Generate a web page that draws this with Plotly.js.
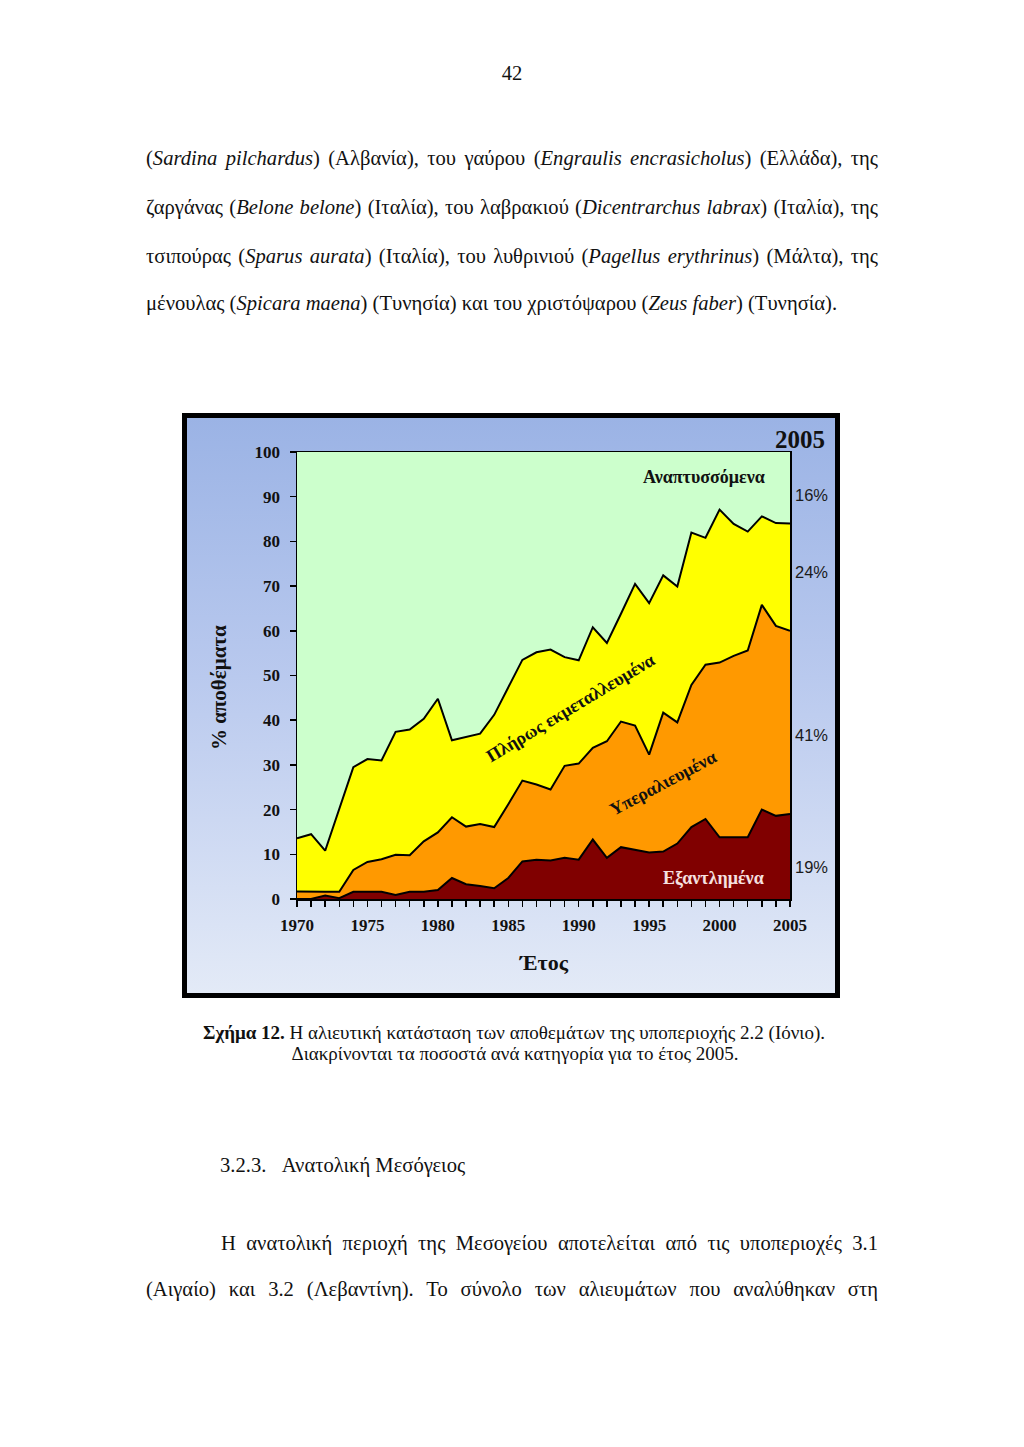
<!DOCTYPE html>
<html>
<head>
<meta charset="utf-8">
<script src="https://cdn.plot.ly/plotly-3.0.1.min.js"></script>
<style>
  html, body { margin:0; padding:0; background:#ffffff; }
  body { width:1024px; height:1447px; position:relative; overflow:hidden; color:#111; }
  .ln { position:absolute; font-family:"Liberation Serif","DejaVu Serif",serif; font-size:20.6px; line-height:24px; white-space:nowrap; }
  .just { text-align:justify; text-align-last:justify; white-space:normal; }
  .cap { font-size:19px; line-height:21px; }
  #frame { position:absolute; left:182px; top:413px; width:658px; height:585px;
           box-sizing:border-box; border:5px solid #000;
           background:linear-gradient(to bottom, #9bb3e5 0%, #b9c9ee 45%, #e3eaf7 100%); }
  #chart { position:absolute; left:0; top:0; width:648px; height:575px; }
</style>
</head>
<body>

<div class="ln" style="left:0;width:1024px;top:61px;text-align:center;">42</div>

<div class="ln just" style="left:146px;width:732px;top:146px;">(<i>Sardina pilchardus</i>) (Αλβανία), του γαύρου (<i>Engraulis encrasicholus</i>) (Ελλάδα), της</div>
<div class="ln just" style="left:146px;width:732px;top:195px;">ζαργάνας (<i>Belone belone</i>) (Ιταλία), του λαβρακιού (<i>Dicentrarchus labrax</i>) (Ιταλία), της</div>
<div class="ln just" style="left:146px;width:732px;top:244px;">τσιπούρας (<i>Sparus aurata</i>) (Ιταλία), του λυθρινιού (<i>Pagellus erythrinus</i>) (Μάλτα), της</div>
<div class="ln" style="left:146px;top:291px;">μένουλας (<i>Spicara maena</i>) (Τυνησία) και του χριστόψαρου (<i>Zeus faber</i>) (Τυνησία).</div>

<div id="frame"><div id="chart"></div></div>

<div class="ln cap" style="left:0;width:1028px;top:1022px;text-align:center;"><b>Σχήμα 12.</b> Η αλιευτική κατάσταση των αποθεμάτων της υποπεριοχής 2.2 (Ιόνιο).</div>
<div class="ln cap" style="left:0;width:1030px;top:1043px;text-align:center;">Διακρίνονται τα ποσοστά ανά κατηγορία για το έτος 2005.</div>

<div class="ln" style="left:220px;top:1153px;">3.2.3.&nbsp;&nbsp;&nbsp;Ανατολική Μεσόγειος</div>

<div class="ln just" style="left:221px;width:657px;top:1231px;">Η ανατολική περιοχή της Μεσογείου αποτελείται από τις υποπεριοχές 3.1</div>
<div class="ln just" style="left:146px;width:732px;top:1277px;">(Αιγαίο) και 3.2 (Λεβαντίνη). Το σύνολο των αλιευμάτων που αναλύθηκαν στη</div>

<script>
// ---- data (percent of stocks per category, 1970-2005) ----
const years = [1970,1971,1972,1973,1974,1975,1976,1977,1978,1979,1980,1981,1982,1983,1984,1985,1986,1987,1988,1989,1990,1991,1992,1993,1994,1995,1996,1997,1998,1999,2000,2001,2002,2003,2004,2005];
const depleted = [0,0,0.8,0.2,1.6,1.6,1.6,0.9,1.6,1.6,2.0,4.7,3.3,2.9,2.4,4.7,8.4,8.8,8.6,9.2,8.8,13.3,9.2,11.6,11.0,10.4,10.6,12.4,16.1,17.9,13.8,13.8,13.8,20.0,18.6,19.0];
const overexploited = [1.7,1.6,0.8,1.4,4.9,6.7,7.3,9.0,8.2,11.3,12.9,13.6,12.9,13.9,13.7,16.5,18.1,16.8,15.9,20.6,21.5,20.5,26.1,28.1,27.8,21.9,31.1,27.1,31.8,34.5,39.1,40.6,41.8,45.8,42.5,41.0];
const fullyExploited = [11.9,12.9,9.2,18.4,23.0,23.0,22.1,27.5,28.1,27.4,29.9,17.2,20.0,20.2,25.1,26.3,27.0,29.6,31.3,24.3,23.1,27.0,22.0,24.1,31.7,33.9,30.7,30.4,34.1,28.4,34.2,29.5,26.6,19.8,23.0,24.0];
const developing = [86.4,85.5,89.2,80.0,70.5,68.7,69.0,62.6,62.1,59.7,55.2,64.5,63.8,63.0,58.8,52.5,46.5,44.8,44.2,45.9,46.6,39.2,42.7,36.2,29.5,33.8,27.6,30.1,18.0,19.2,12.9,16.1,17.8,14.4,15.9,16.0];
const categoryNames = ["Εξαντλημένα","Υπεραλιευμένα","Πλήρως εκμεταλλευμένα","Αναπτυσσόμενα"];
const share2005 = ["19%","41%","24%","16%"];
const xTickVals = [1970,1975,1980,1985,1990,1995,2000,2005];
const yTickVals = [0,10,20,30,40,50,60,70,80,90,100];
const yAxisTitle = "% αποθέματα";
const xAxisTitle = "Έτος";
const yearLabel = "2005";

const serifB = {family:"Liberation Serif, Times New Roman, serif", weight:"bold", color:"#111"};

function area(y, fill, lw, name){
  return {x: years, y: y, name: name, type:"scatter", mode:"lines", stackgroup:"one",
          line:{color:"#000", width:lw, shape:"linear"}, fillcolor: fill, hoverinfo:"x+y+name"};
}
const traces = [
  area(depleted, "#800000", 2, categoryNames[0]),
  area(overexploited, "#ff9900", 2, categoryNames[1]),
  area(fullyExploited, "#ffff00", 2, categoryNames[2]),
  area(developing, "#ccffcc", 0, categoryNames[3])
];

const pctFont = {family:"Liberation Sans, Arial, sans-serif", size:16.5, color:"#1a1a1a"};
const pctX = 1.0065;
const annotations = [
  {text:yearLabel, xref:"paper", yref:"paper", x:1.0203, y:1.029, showarrow:false, xanchor:"center", yanchor:"middle", font:Object.assign({}, serifB, {size:25})},
  {text:share2005[3], xref:"paper", yref:"paper", x:pctX, y:0.904, showarrow:false, xanchor:"left", yanchor:"middle", font:pctFont},
  {text:share2005[2], xref:"paper", yref:"paper", x:pctX, y:0.7315, showarrow:false, xanchor:"left", yanchor:"middle", font:pctFont},
  {text:share2005[1], xref:"paper", yref:"paper", x:pctX, y:0.367, showarrow:false, xanchor:"left", yanchor:"middle", font:pctFont},
  {text:share2005[0], xref:"paper", yref:"paper", x:pctX, y:0.072, showarrow:false, xanchor:"left", yanchor:"middle", font:pctFont},
  {text:categoryNames[3], xref:"x", yref:"y", x:1998.9, y:94.3, showarrow:false, xanchor:"center", yanchor:"middle", font:Object.assign({}, serifB, {size:18})},
  {text:categoryNames[2], xref:"x", yref:"y", x:1989.4, y:42.8, showarrow:false, textangle:-31, xanchor:"center", yanchor:"middle", font:Object.assign({}, serifB, {size:18})},
  {text:categoryNames[1], xref:"x", yref:"y", x:1996.0, y:26.0, showarrow:false, textangle:-28, xanchor:"center", yanchor:"middle", font:Object.assign({}, serifB, {size:18})},
  {text:categoryNames[0], xref:"x", yref:"y", x:1999.6, y:4.6, showarrow:false, xanchor:"center", yanchor:"middle", font:Object.assign({}, serifB, {size:18, color:"#f6e0e0"})},
  {text:yAxisTitle, xref:"paper", yref:"paper", x:-0.158, y:0.472, showarrow:false, textangle:-90, xanchor:"center", yanchor:"middle", font:Object.assign({}, serifB, {size:21})},
  {text:xAxisTitle, xref:"paper", yref:"paper", x:0.5, y:-0.141, showarrow:false, xanchor:"center", yanchor:"middle", font:Object.assign({}, serifB, {size:22})}
];

const layout = {
  width:648, height:575,
  margin:{l:110, r:45, t:34, b:94, pad:0},
  paper_bgcolor:"rgba(0,0,0,0)",
  plot_bgcolor:"#ccffcc",
  showlegend:false,
  xaxis:{range:[1970,2005], tickvals:xTickVals, ticks:"outside", ticklen:6, tickwidth:1.5, tickcolor:"#000",
         minor:{dtick:1, tick0:1970, ticks:"outside", ticklen:6, tickwidth:1.5, tickcolor:"#000"},
         showline:true, linecolor:"#000", linewidth:1.5, mirror:true, showgrid:false, zeroline:false,
         tickfont:Object.assign({}, serifB, {size:17}), ticklabelstandoff:4, fixedrange:true},
  yaxis:{range:[0,100], tickvals:yTickVals, ticks:"outside", ticklen:6, tickwidth:1.5, tickcolor:"#000",
         showline:true, linecolor:"#000", linewidth:1.5, mirror:true, showgrid:false, zeroline:false,
         tickfont:Object.assign({}, serifB, {size:17}), ticklabelstandoff:6, fixedrange:true},
  annotations: annotations
};

Plotly.newPlot("chart", traces, layout, {displayModeBar:false, staticPlot:true});
</script>
</body>
</html>
